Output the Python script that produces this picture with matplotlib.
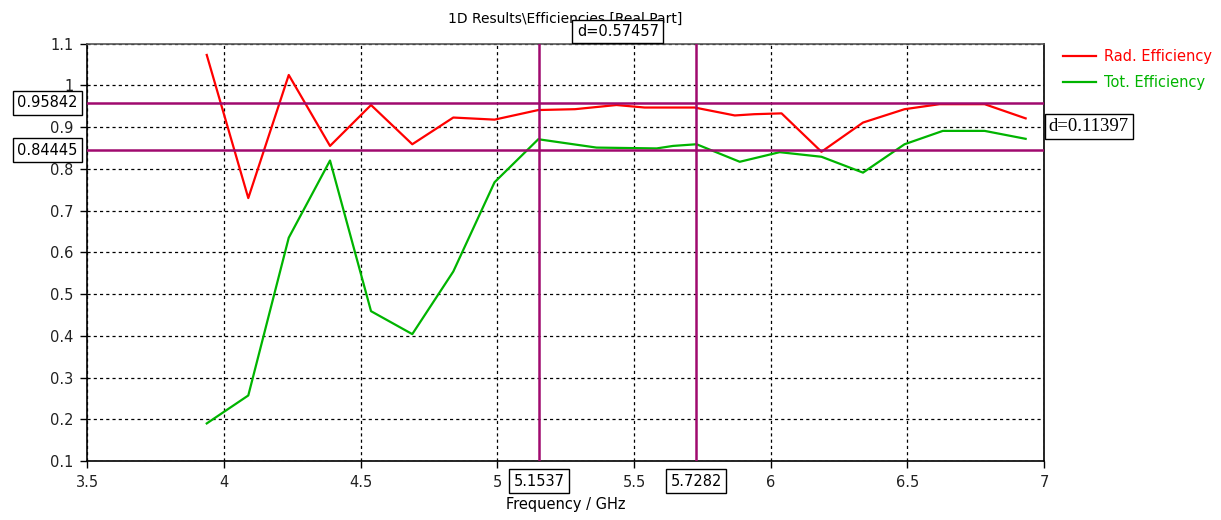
import matplotlib.pyplot as plt
from matplotlib.transforms import blended_transform_factory

# Data
rad_freq = [3.937, 4.089, 4.237, 4.388, 4.538, 4.689, 4.839, 4.99, 5.15, 5.284, 5.436,
            5.539, 5.722, 5.869, 5.94, 6.04, 6.186, 6.338, 6.49, 6.618, 6.783, 6.933]
rad_eff = [1.073, 0.73, 1.025, 0.855, 0.953, 0.859, 0.923, 0.918, 0.941, 0.943, 0.953,
           0.947, 0.947, 0.928, 0.931, 0.933, 0.841, 0.911, 0.943, 0.955, 0.955, 0.921]

tot_freq = [3.937, 4.089, 4.237, 4.388, 4.538, 4.689, 4.839, 4.99, 5.15, 5.363, 5.583,
            5.643, 5.729, 5.887, 6.033, 6.186, 6.338, 6.49, 6.63, 6.783, 6.933]
tot_eff = [0.19, 0.257, 0.635, 0.82, 0.459, 0.404, 0.554, 0.768, 0.871, 0.851, 0.849,
           0.855, 0.859, 0.817, 0.84, 0.829, 0.791, 0.859, 0.891, 0.891, 0.872]

h_markers = [0.95842, 0.84445]
h_labels = ['0.95842', '0.84445']
v_markers = [5.1537, 5.7282]
v_labels = ['5.1537', '5.7282']
dx_label = 'd=0.57457'
dy_label = 'd=0.11397'
x_ticks = [3.5, 4, 4.5, 5, 5.5, 6, 6.5, 7]
x_labels = ['3.5', '4', '4.5', '5', '5.5', '6', '6.5', '7']
y_ticks = [0.1, 0.2, 0.3, 0.4, 0.5, 0.6, 0.7, 0.8, 0.9, 1.0, 1.1]
y_labels = ['0.1', '0.2', '0.3', '0.4', '0.5', '0.6', '0.7', '0.8', '0.9', '1', '1.1']

plt.rcParams['font.family'] = 'DejaVu Sans'
mark_col = '#a00a6e'
fs = 10.5

fig = plt.figure(figsize=(12.21, 5.2), dpi=100)
ax = fig.add_axes([0.0715, 0.1135, 0.7835, 0.8025])

ax.plot(rad_freq, rad_eff, color='#ff0000', lw=1.6, label='Rad. Efficiency')
ax.plot(tot_freq, tot_eff, color='#00b400', lw=1.6, label='Tot. Efficiency')

for yv in h_markers:
    ax.axhline(yv, color=mark_col, lw=1.8, zorder=3)
for xv in v_markers:
    ax.axvline(xv, color=mark_col, lw=1.8, zorder=3)

ax.set_xlim(3.5, 7)
ax.set_ylim(0.1, 1.1)
ax.set_xticks(x_ticks)
ax.set_xticklabels(x_labels, fontsize=fs, color='#222222')
ax.set_yticks(y_ticks)
ax.set_yticklabels(y_labels, fontsize=fs, color='#222222')
ax.tick_params(direction='out', length=5, width=1, colors='black', pad=5)
for t in ax.get_xticklabels() + ax.get_yticklabels():
    t.set_color('#222222')
ax.grid(True, color='black', ls=(0, (2.5, 2.5)), lw=0.9)
for s in ax.spines.values():
    s.set_color('black')
    s.set_linewidth(1.2)
ax.spines['top'].set_color('#555555')

ax.set_title('1D Results\\Efficiencies [Real Part]', fontsize=10, pad=15)
ax.set_xlabel('Frequency / GHz', fontsize=fs, labelpad=5)

box = dict(boxstyle='square,pad=0.3', fc='white', ec='black', lw=1)
ty = blended_transform_factory(ax.transAxes, ax.transData)
tx = blended_transform_factory(ax.transData, ax.transAxes)

for yv, lab in zip(h_markers, h_labels):
    ax.text(-0.01, yv, lab, transform=ty, ha='right', va='center',
            fontsize=fs, bbox=box, clip_on=False)
for xv, lab in zip(v_markers, v_labels):
    ax.text(xv, -0.048, lab, transform=tx, ha='center', va='center',
            fontsize=fs, bbox=box, clip_on=False, zorder=5)

ax.text((v_markers[0] + v_markers[1]) / 2, 1.029, dx_label, transform=tx,
        ha='center', va='center', fontsize=fs, bbox=box, clip_on=False, zorder=5)
ax.text(1.005, (h_markers[0] + h_markers[1]) / 2, dy_label, transform=ty,
        ha='left', va='center', fontsize=13.5, family='Liberation Serif',
        bbox=dict(boxstyle='square,pad=0.2', fc='white', ec='black', lw=1),
        clip_on=False)

leg = ax.legend(loc='upper left', bbox_to_anchor=(1.006, 1.018), frameon=False,
                fontsize=fs, handlelength=2.3, handletextpad=0.5, labelspacing=0.75)
for txt, line in zip(leg.get_texts(), leg.get_lines()):
    txt.set_color(line.get_color())

fig.savefig('out.png', dpi=100)
